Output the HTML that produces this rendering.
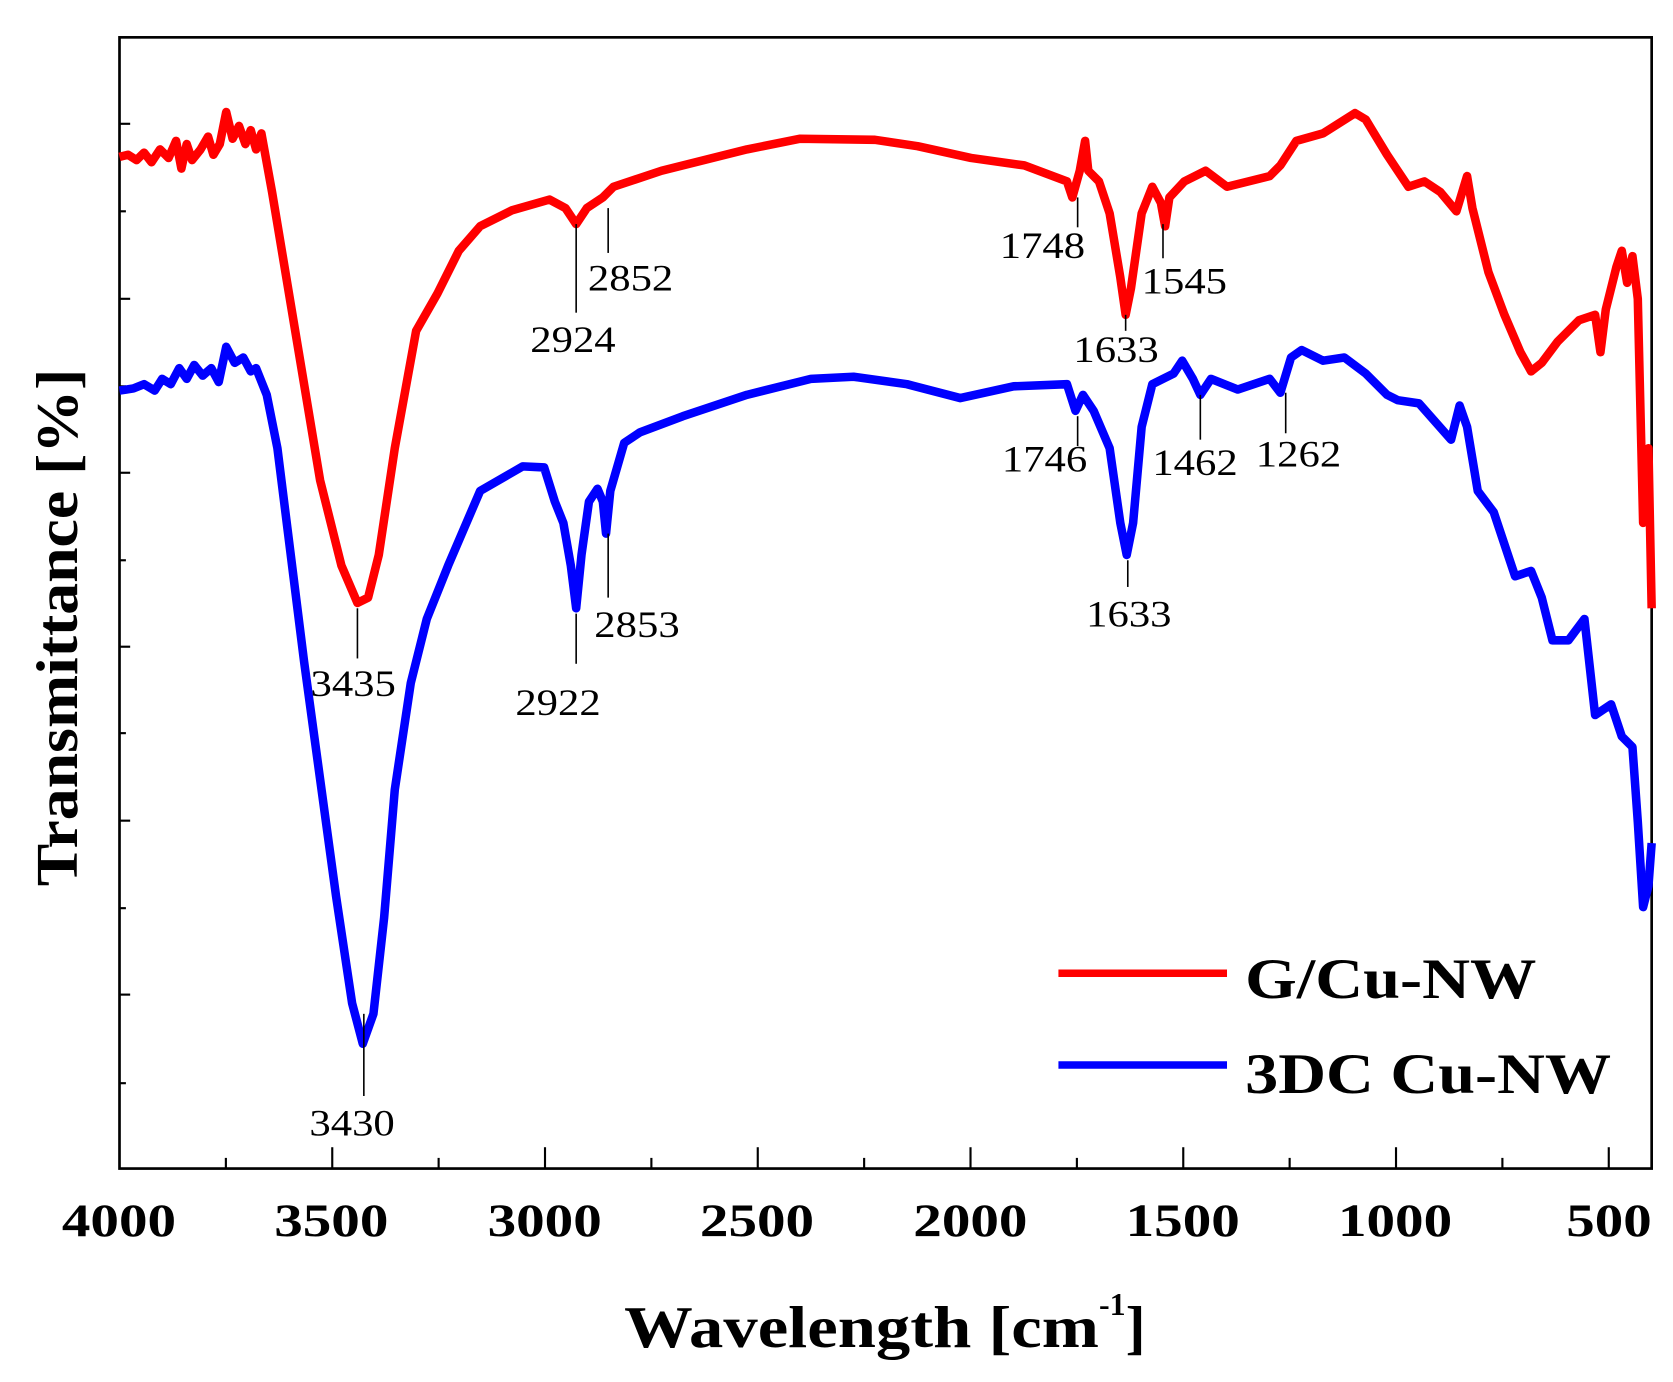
<!DOCTYPE html><html><head><style>html,body{margin:0;padding:0;background:#fff}svg{display:block}</style></head><body>
<svg width="1673" height="1382" viewBox="0 0 1568 1295" preserveAspectRatio="none" xmlns="http://www.w3.org/2000/svg" font-family="'Liberation Serif',serif">
<rect x="112" y="35" width="1436" height="1060" fill="none" stroke="#000" stroke-width="2.5"/>
<g stroke="#000" stroke-width="2">
<line x1="112" y1="116" x2="122" y2="116"/><line x1="112" y1="198" x2="118" y2="198"/>
<line x1="112" y1="280" x2="122" y2="280"/><line x1="112" y1="362" x2="118" y2="362"/>
<line x1="112" y1="443" x2="122" y2="443"/><line x1="112" y1="525" x2="118" y2="525"/>
<line x1="112" y1="606" x2="122" y2="606"/><line x1="112" y1="687" x2="118" y2="687"/>
<line x1="112" y1="769" x2="122" y2="769"/><line x1="112" y1="851" x2="118" y2="851"/>
<line x1="112" y1="932" x2="122" y2="932"/><line x1="112" y1="1015" x2="118" y2="1015"/>
<line x1="211.7" y1="1095" x2="211.7" y2="1085"/><line x1="311.4" y1="1095" x2="311.4" y2="1075"/>
<line x1="411.1" y1="1095" x2="411.1" y2="1085"/><line x1="510.8" y1="1095" x2="510.8" y2="1075"/>
<line x1="610.5" y1="1095" x2="610.5" y2="1085"/><line x1="710.2" y1="1095" x2="710.2" y2="1075"/>
<line x1="809.9" y1="1095" x2="809.9" y2="1085"/><line x1="909.6" y1="1095" x2="909.6" y2="1075"/>
<line x1="1009.3" y1="1095" x2="1009.3" y2="1085"/><line x1="1109" y1="1095" x2="1109" y2="1075"/>
<line x1="1208.7" y1="1095" x2="1208.7" y2="1085"/><line x1="1308.4" y1="1095" x2="1308.4" y2="1075"/>
<line x1="1408.1" y1="1095" x2="1408.1" y2="1085"/><line x1="1507.8" y1="1095" x2="1507.8" y2="1075"/>
</g>
<g font-size="44" font-weight="bold" lengthAdjust="spacingAndGlyphs">
<text x="58" y="1158" textLength="107" lengthAdjust="spacingAndGlyphs">4000</text>
<text x="257" y="1158" textLength="107" lengthAdjust="spacingAndGlyphs">3500</text>
<text x="457" y="1158" textLength="107" lengthAdjust="spacingAndGlyphs">3000</text>
<text x="656" y="1158" textLength="107" lengthAdjust="spacingAndGlyphs">2500</text>
<text x="856" y="1158" textLength="107" lengthAdjust="spacingAndGlyphs">2000</text>
<text x="1055" y="1158" textLength="107" lengthAdjust="spacingAndGlyphs">1500</text>
<text x="1254" y="1158" textLength="107" lengthAdjust="spacingAndGlyphs">1000</text>
<text x="1468" y="1158" textLength="80" lengthAdjust="spacingAndGlyphs">500</text>
</g>
<text x="585" y="1262" font-size="56" font-weight="bold" textLength="445" lengthAdjust="spacingAndGlyphs">Wavelength [cm</text>
<text x="1030" y="1232" font-size="30" font-weight="bold">-1</text>
<text x="1055" y="1262" font-size="56" font-weight="bold">]</text>
<text transform="translate(72,588) rotate(-90)" font-size="56" font-weight="bold" text-anchor="middle" textLength="485" lengthAdjust="spacingAndGlyphs">Transmittance [%]</text>
<polyline fill="none" stroke="#f00" stroke-width="8" stroke-linejoin="round" points="112,147 120,145 128,150 135,143 142,152 150,140 158,148 165,132 170,158 175,135 180,150 188,140 195,128 200,145 206,135 212,105 218,130 224,118 230,135 235,122 240,140 245,125 255,180 265,240 280,330 300,450 320,530 335,565 345,560 355,520 370,420 390,310 410,275 430,235 450,212 480,197 515,187 530,195 540,210 550,195 565,185 575,175 620,160 700,140 750,130 820,131 860,137 910,148 960,155 1000,170 1005,185 1012,160 1017,132 1020,160 1030,170 1040,200 1050,260 1055,295 1060,270 1070,200 1080,175 1088,190 1092,212 1096,185 1110,170 1130,160 1150,175 1190,165 1200,155 1215,132 1240,125 1270,106 1280,112 1300,145 1320,175 1335,170 1350,180 1365,198 1375,165 1380,195 1395,255 1410,295 1425,330 1435,348 1445,340 1460,320 1480,300 1495,295 1500,330 1505,290 1515,250 1520,235 1525,265 1530,240 1535,280 1540,490 1545,420 1548,570"/>
<polyline fill="none" stroke="#00f" stroke-width="8" stroke-linejoin="round" points="112,366 125,364 135,360 145,366 152,355 160,360 168,345 175,355 182,342 190,352 198,345 205,358 212,325 220,340 228,335 235,348 240,345 250,370 260,420 270,500 285,620 300,730 315,840 330,940 340,978 350,950 360,860 370,740 385,640 400,580 420,530 450,460 490,437 510,438 520,470 528,490 535,530 540,570 545,520 552,470 560,458 565,470 568,500 572,460 585,415 600,405 640,390 700,370 760,355 800,353 850,360 900,373 950,362 1000,360 1008,385 1015,370 1025,385 1040,420 1050,490 1056,520 1062,490 1070,400 1080,360 1100,350 1108,338 1118,355 1125,370 1135,355 1160,365 1190,355 1200,368 1210,335 1220,328 1240,338 1260,335 1280,350 1300,370 1310,375 1330,378 1345,395 1360,412 1368,380 1375,400 1385,460 1400,480 1420,540 1435,535 1445,560 1455,600 1470,600 1485,580 1495,670 1510,660 1520,690 1530,700 1535,770 1540,850 1545,830 1548,790"/>
<g stroke="#000" stroke-width="1.5">
<line x1="540" y1="210" x2="540" y2="293"/><line x1="570" y1="195" x2="570" y2="237"/>
<line x1="1010" y1="185" x2="1010" y2="213"/><line x1="1090" y1="210" x2="1090" y2="242"/>
<line x1="1055" y1="295" x2="1055" y2="310"/><line x1="335" y1="570" x2="335" y2="617"/>
<line x1="540" y1="575" x2="540" y2="622"/><line x1="570" y1="500" x2="570" y2="560"/>
<line x1="1010" y1="390" x2="1010" y2="418"/><line x1="1125" y1="370" x2="1125" y2="412"/>
<line x1="1205" y1="368" x2="1205" y2="406"/><line x1="1057" y1="525" x2="1057" y2="550"/>
<line x1="341" y1="950" x2="341" y2="1027"/>
</g>
<g font-size="35">
<text x="497" y="330" textLength="80" lengthAdjust="spacingAndGlyphs">2924</text>
<text x="551" y="272" textLength="80" lengthAdjust="spacingAndGlyphs">2852</text>
<text x="937" y="242" textLength="80" lengthAdjust="spacingAndGlyphs">1748</text>
<text x="1070" y="275" textLength="80" lengthAdjust="spacingAndGlyphs">1545</text>
<text x="1006" y="339" textLength="80" lengthAdjust="spacingAndGlyphs">1633</text>
<text x="291" y="652" textLength="80" lengthAdjust="spacingAndGlyphs">3435</text>
<text x="483" y="670" textLength="80" lengthAdjust="spacingAndGlyphs">2922</text>
<text x="557" y="597" textLength="80" lengthAdjust="spacingAndGlyphs">2853</text>
<text x="939" y="442" textLength="80" lengthAdjust="spacingAndGlyphs">1746</text>
<text x="1080" y="445" textLength="80" lengthAdjust="spacingAndGlyphs">1462</text>
<text x="1177" y="437" textLength="80" lengthAdjust="spacingAndGlyphs">1262</text>
<text x="1018" y="587" textLength="80" lengthAdjust="spacingAndGlyphs">1633</text>
<text x="290" y="1064" textLength="80" lengthAdjust="spacingAndGlyphs">3430</text>
</g>
<line x1="992" y1="912" x2="1150" y2="912" stroke="#f00" stroke-width="7"/>
<line x1="992" y1="998" x2="1150" y2="998" stroke="#00f" stroke-width="7"/>
<text x="1167" y="935" font-size="54" font-weight="bold" textLength="273" lengthAdjust="spacingAndGlyphs">G/Cu-NW</text>
<text x="1167" y="1024" font-size="54" font-weight="bold" textLength="343" lengthAdjust="spacingAndGlyphs">3DC Cu-NW</text>
</svg>
</body></html>
